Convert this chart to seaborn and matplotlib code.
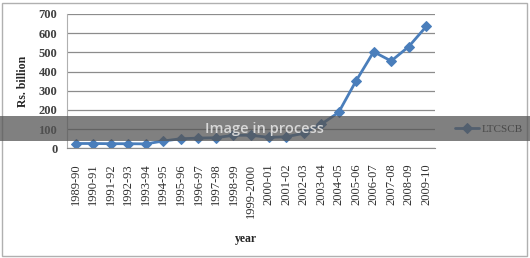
import matplotlib
matplotlib.use("Agg")
import matplotlib.pyplot as plt
import seaborn as sns
import pandas as pd
from matplotlib.patches import Rectangle

years = ["1989-90", "1990-91", "1991-92", "1992-93", "1993-94", "1994-95", "1995-96",
         "1996-97", "1997-98", "1998-99", "1999-2000", "2000-01", "2001-02", "2002-03",
         "2003-04", "2004-05", "2005-06", "2006-07", "2007-08", "2008-09", "2009-10"]
ltcscb = [25, 25, 24, 24, 23, 38, 50, 53, 55, 68, 68, 57, 60, 78,
          125, 187, 352, 503, 455, 530, 635]
yticks = [0, 100, 200, 300, 400, 500, 600, 700]

df = pd.DataFrame({"year": years, "LTCSCB": ltcscb})

sns.set_style("white")
plt.rcParams["font.family"] = ["Liberation Serif", "DejaVu Serif"]

W, H = 530, 258
fig = plt.figure(figsize=(W / 100, H / 100), dpi=100)
ax = fig.add_axes([67 / W, 1 - 148.3 / H, 368 / W, 134.3 / H])

line_color = "#4a7ebb"
sns.lineplot(data=df, x="year", y="LTCSCB", ax=ax, sort=False, color=line_color,
             marker="D", markersize=5, markeredgecolor=line_color, linewidth=2,
             label="LTCSCB", legend=False)

ax.set_xlim(-0.5, len(years) - 0.5)
ax.set_ylim(0, 700)
ax.set_yticks(yticks)
ax.set_yticklabels([str(v) for v in yticks], fontsize=9, fontweight="bold", color="#404040")
ax.set_xticks(range(len(years)))
ax.set_xticklabels(years, rotation=90, fontsize=9, color="#303030")
ax.tick_params(axis="x", length=0, pad=11)
ax.tick_params(axis="y", length=4, color="#a0a0a0", pad=3, width=0.8)
ax.yaxis.grid(True, color="#8c8c8c", linewidth=0.9)
ax.set_axisbelow(True)
for s in ["top", "right"]:
    ax.spines[s].set_visible(False)
ax.spines["left"].set_color("#b0b0b0")
ax.spines["bottom"].set_color("#8c8c8c")
ax.set_xlabel("year", fontsize=8.5, fontweight="bold")
ax.xaxis.set_label_coords((246 - 67) / 368, -(233 - 148.3) / 134.3)
ax.set_ylabel("Rs. billion", fontsize=8.5, fontweight="bold")
ax.yaxis.set_label_coords(-(67 - 29) / 368, (148.3 - 81) / 134.3)

# legend
handles, labels = ax.get_legend_handles_labels()
fig.legend(handles, labels, loc="center left", bbox_to_anchor=(445 / W, 1 - 129 / H),
           frameon=False, fontsize=8, handlelength=2.2, handletextpad=0.2)

# border
fig.patches.append(Rectangle((2 / W, 2 / H), 525 / W, 253 / H, transform=fig.transFigure,
                             fill=False, edgecolor="#b0b0b0", linewidth=1, zorder=0))

# watermark band
fig.patches.append(Rectangle((0, 1 - 141 / H), 1, 25 / H, transform=fig.transFigure,
                             facecolor="#555555", alpha=0.75, edgecolor="none", zorder=10))
fig.text(264 / W, 1 - 129 / H, "Image in process", ha="center", va="center",
         fontsize=10.5, fontweight="semibold", color="#d8d8d8", family=["Open Sans", "DejaVu Sans"],
         zorder=11)

fig.savefig("out.png", dpi=100)
